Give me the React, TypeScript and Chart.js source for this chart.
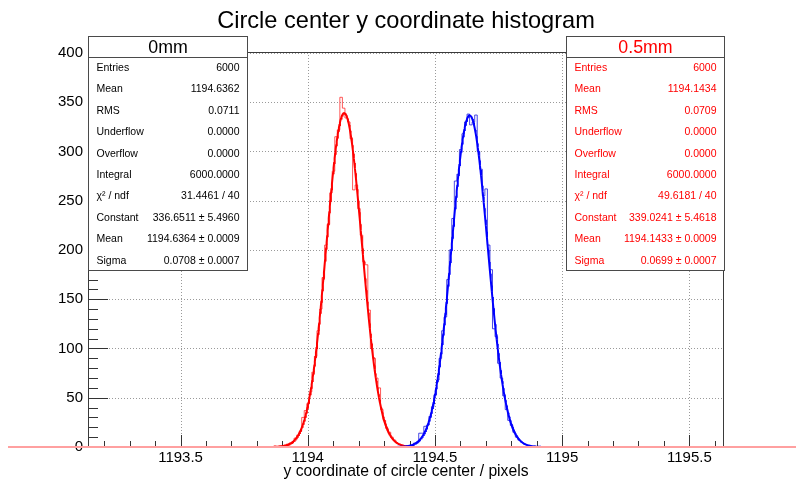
import React, { useEffect, useRef } from 'react';
import { Chart, registerables } from 'chart.js';

Chart.register(...registerables);

// ---------- data ----------
const TITLE = 'Circle center y coordinate histogram';
const X_TITLE = 'y coordinate of circle center / pixels';
const X_MIN = 1193.1362;
const X_MAX = 1195.6362;
const BIN_WIDTH = 0.01;
const Y_MIN = 0;
const Y_MAX = 401;

const xTickValues = [1193.5, 1194, 1194.5, 1195, 1195.5];
const xTickLabels = ['1193.5', '1194', '1194.5', '1195', '1195.5'];
const yTickValues = [0, 50, 100, 150, 200, 250, 300, 350, 400];
const yTickLabels = ['0', '50', '100', '150', '200', '250', '300', '350', '400'];

// "0.5mm" histogram (red), bins counted from X_MIN
const redFirstBin = 73;
const redCounts = [
  1, 0, 1, 1, 2, 3, 4, 5, 9, 12,
  16, 30, 37, 44, 56, 76, 92, 118, 140, 172,
  205, 226, 258, 280, 315, 322, 355, 344, 334, 330,
  313, 261, 266, 242, 215, 188, 185, 139, 100, 90,
  70, 60, 38, 27, 19, 15, 10, 7, 4, 3,
  2, 1, 1,
];

// "0mm" histogram (blue)
const blueFirstBin = 125;
const blueCounts = [
  1, 1, 2, 4, 5, 14, 14, 21, 22, 31,
  41, 53, 68, 90, 118, 132, 170, 200, 232, 270,
  277, 302, 318, 330, 338, 327, 330, 337, 300, 282,
  255, 262, 205, 180, 120, 112, 85, 70, 52, 38,
  27, 22, 15, 10, 7, 5, 3, 2, 1, 0,
  1,
];

// Gaussian fit parameters: [0mm, 0.5mm]
const fitConstant = [336.6511, 339.0241];
const fitMean = [1194.6364, 1194.1433];
const fitSigma = [0.0708, 0.0699];

const boxHeaders = ['0mm', '0.5mm'];
const statLabels = ['Entries', 'Mean', 'RMS', 'Underflow', 'Overflow', 'Integral', 'χ² / ndf', 'Constant', 'Mean', 'Sigma'];
const stats0mm = ['6000', '1194.6362', '0.0711', '0.0000', '0.0000', '6000.0000', '31.4461 / 40', '336.6511 ± 5.4960', '1194.6364 ± 0.0009', '0.0708 ± 0.0007'];
const stats05mm = ['6000', '1194.1434', '0.0709', '0.0000', '0.0000', '6000.0000', '49.6181 / 40', '339.0241 ± 5.4618', '1194.1433 ± 0.0009', '0.0699 ± 0.0007'];

// ---------- helpers ----------
const FONT = "'Liberation Sans', Arial, Helvetica, sans-serif";

function histPoints(first: number, counts: number[]) {
  const pts = [{ x: X_MIN + (first - 1) * BIN_WIDTH, y: 0 }];
  counts.forEach((c, i) => pts.push({ x: X_MIN + (first + i) * BIN_WIDTH, y: c }));
  pts.push({ x: X_MIN + (first + counts.length) * BIN_WIDTH, y: 0 });
  return pts;
}

function fitPoints(i: number) {
  const pts: { x: number; y: number }[] = [];
  const m = fitMean[i];
  const s = fitSigma[i];
  const n = 300;
  for (let k = 0; k <= n; k++) {
    const xv = m - 4.5 * s + (9 * s * k) / n;
    const z = (xv - m) / s;
    pts.push({ x: xv, y: fitConstant[i] * Math.exp(-0.5 * z * z) });
  }
  return pts;
}

const framePlugin = {
  id: 'rootFrame',
  beforeDatasetsDraw(chart: any) {
    const { ctx, chartArea, scales } = chart;
    const { left, right, top, bottom } = chartArea;
    const xs = scales.x;
    const ys = scales.y;
    ctx.save();
    // grid
    ctx.strokeStyle = '#9a9a9a';
    ctx.lineWidth = 1;
    ctx.setLineDash([1, 2]);
    xTickValues.forEach((v) => {
      const px = Math.round(xs.getPixelForValue(v)) + 0.5;
      ctx.beginPath();
      ctx.moveTo(px, top);
      ctx.lineTo(px, bottom);
      ctx.stroke();
    });
    yTickValues.forEach((v) => {
      if (v === 0) return;
      const py = Math.round(ys.getPixelForValue(v)) + 0.5;
      ctx.beginPath();
      ctx.moveTo(left, py);
      ctx.lineTo(right, py);
      ctx.stroke();
    });
    ctx.setLineDash([]);
    // ticks (inside)
    ctx.strokeStyle = '#333';
    for (let k = Math.ceil(X_MIN * 10); k <= Math.floor(X_MAX * 10); k++) {
      const px = Math.round(xs.getPixelForValue(k / 10)) + 0.5;
      const len = k % 5 === 0 ? 12 : 6;
      ctx.beginPath();
      ctx.moveTo(px, bottom);
      ctx.lineTo(px, bottom - len);
      ctx.stroke();
    }
    for (let k = 0; k * 10 <= Y_MAX; k++) {
      const py = Math.round(ys.getPixelForValue(k * 10)) + 0.5;
      const len = k % 5 === 0 ? 20 : 10;
      ctx.beginPath();
      ctx.moveTo(left, py);
      ctx.lineTo(left + len, py);
      ctx.stroke();
    }
    // frame
    ctx.strokeStyle = '#3a3a3a';
    ctx.strokeRect(left + 0.5, top + 0.5, right - left - 1, bottom - top);
    ctx.restore();
  },
};

function drawBox(ctx: any, x0: number, x1: number, header: string, color: string, values: string[]) {
  const top = 36;
  const headBottom = 57;
  const bottom = 271;
  ctx.save();
  ctx.fillStyle = '#ffffff';
  ctx.fillRect(x0, top, x1 - x0, bottom - top);
  ctx.strokeStyle = '#4a4a4a';
  ctx.lineWidth = 1;
  ctx.strokeRect(x0 + 0.5, top + 0.5, x1 - x0 - 1, bottom - top - 1);
  ctx.beginPath();
  ctx.moveTo(x0, headBottom + 0.5);
  ctx.lineTo(x1, headBottom + 0.5);
  ctx.stroke();
  ctx.fillStyle = color;
  ctx.font = `17.8px ${FONT}`;
  ctx.textAlign = 'center';
  ctx.textBaseline = 'alphabetic';
  ctx.fillText(header, (x0 + x1) / 2, 52.5);
  ctx.font = `10.5px ${FONT}`;
  ctx.textBaseline = 'middle';
  const rowH = (bottom - headBottom) / statLabels.length;
  statLabels.forEach((lab, i) => {
    const yy = headBottom + rowH * (i + 0.5) + 0.5;
    ctx.textAlign = 'left';
    ctx.fillText(lab, x0 + 8.5, yy);
    ctx.textAlign = 'right';
    ctx.fillText(values[i], x1 - 8.5, yy);
  });
  ctx.restore();
}

const overlayPlugin = {
  id: 'rootOverlay',
  afterDraw(chart: any) {
    const { ctx, scales, width } = chart;
    ctx.save();
    // baseline line
    const y0 = scales.y.getPixelForValue(0);
    ctx.strokeStyle = '#ffa0a0';
    ctx.lineWidth = 2;
    ctx.beginPath();
    ctx.moveTo(8, y0);
    ctx.lineTo(width, y0);
    ctx.stroke();
    // title
    ctx.fillStyle = '#000';
    ctx.font = `23.6px ${FONT}`;
    ctx.textAlign = 'center';
    ctx.textBaseline = 'alphabetic';
    const cx = (chart.chartArea.left + chart.chartArea.right) / 2;
    ctx.fillText(TITLE, cx, 28);
    ctx.restore();
    drawBox(ctx, 88, 248, boxHeaders[0], '#000000', stats0mm);
    drawBox(ctx, 566, 725, boxHeaders[1], '#ff0000', stats05mm);
  },
};

export default function App() {
  const ref = useRef<HTMLCanvasElement | null>(null);

  useEffect(() => {
    if (!ref.current) return;
    const chart = new Chart(ref.current, {
      type: 'line',
      data: {
        datasets: [
          {
            label: 'fit 0mm',
            data: fitPoints(0),
            borderColor: '#0000ff',
            borderWidth: 2,
            pointRadius: 0,
            tension: 0,
            order: 0,
          },
          {
            label: 'fit 0.5mm',
            data: fitPoints(1),
            borderColor: '#ff0000',
            borderWidth: 2,
            pointRadius: 0,
            tension: 0,
            order: 0,
          },
          {
            label: boxHeaders[0],
            data: histPoints(blueFirstBin, blueCounts),
            borderColor: 'rgba(30,30,220,0.8)',
            borderWidth: 1,
            pointRadius: 0,
            stepped: true,
            order: 1,
          },
          {
            label: boxHeaders[1],
            data: histPoints(redFirstBin, redCounts),
            borderColor: 'rgba(255,20,20,0.7)',
            borderWidth: 1,
            pointRadius: 0,
            stepped: true,
            order: 1,
          },
        ],
      },
      options: {
        animation: false,
        responsive: false,
        maintainAspectRatio: false,
        layout: { padding: { left: 0, right: 72, top: 52, bottom: 0 } },
        plugins: {
          legend: { display: false },
          tooltip: { enabled: false },
          title: { display: false },
        },
        elements: { point: { radius: 0 } },
        scales: {
          x: {
            type: 'linear',
            min: X_MIN,
            max: X_MAX,
            grid: { display: false, drawTicks: false },
            border: { display: false },
            afterBuildTicks: (s: any) => {
              s.ticks = xTickValues.map((v) => ({ value: v }));
            },
            afterFit: (s: any) => {
              s.height = 40;
            },
            ticks: {
              autoSkip: false,
              maxRotation: 0,
              padding: 2,
              color: '#000',
              font: { family: FONT, size: 15 },
              callback: (v: any) => xTickLabels[xTickValues.indexOf(Number(v))] ?? '',
            },
            title: {
              display: true,
              text: X_TITLE,
              color: '#000',
              font: { family: FONT, size: 15.7 },
              padding: { top: 6, bottom: 6 },
            },
          },
          y: {
            type: 'linear',
            min: Y_MIN,
            max: Y_MAX,
            grid: { display: false, drawTicks: false },
            border: { display: false },
            afterBuildTicks: (s: any) => {
              s.ticks = yTickValues.map((v) => ({ value: v }));
            },
            afterFit: (s: any) => {
              s.width = 88;
            },
            ticks: {
              autoSkip: false,
              padding: 5,
              color: '#000',
              font: { family: FONT, size: 15 },
              callback: (v: any) => yTickLabels[yTickValues.indexOf(Number(v))] ?? '',
            },
          },
        },
      } as any,
      plugins: [framePlugin, overlayPlugin],
    });
    return () => chart.destroy();
  }, []);

  return (
    <div style={{ position: 'absolute', left: 0, top: 0, width: 796, height: 487, background: '#fff' }}>
      <canvas ref={ref} width={796} height={487} style={{ display: 'block' }} />
    </div>
  );
}
